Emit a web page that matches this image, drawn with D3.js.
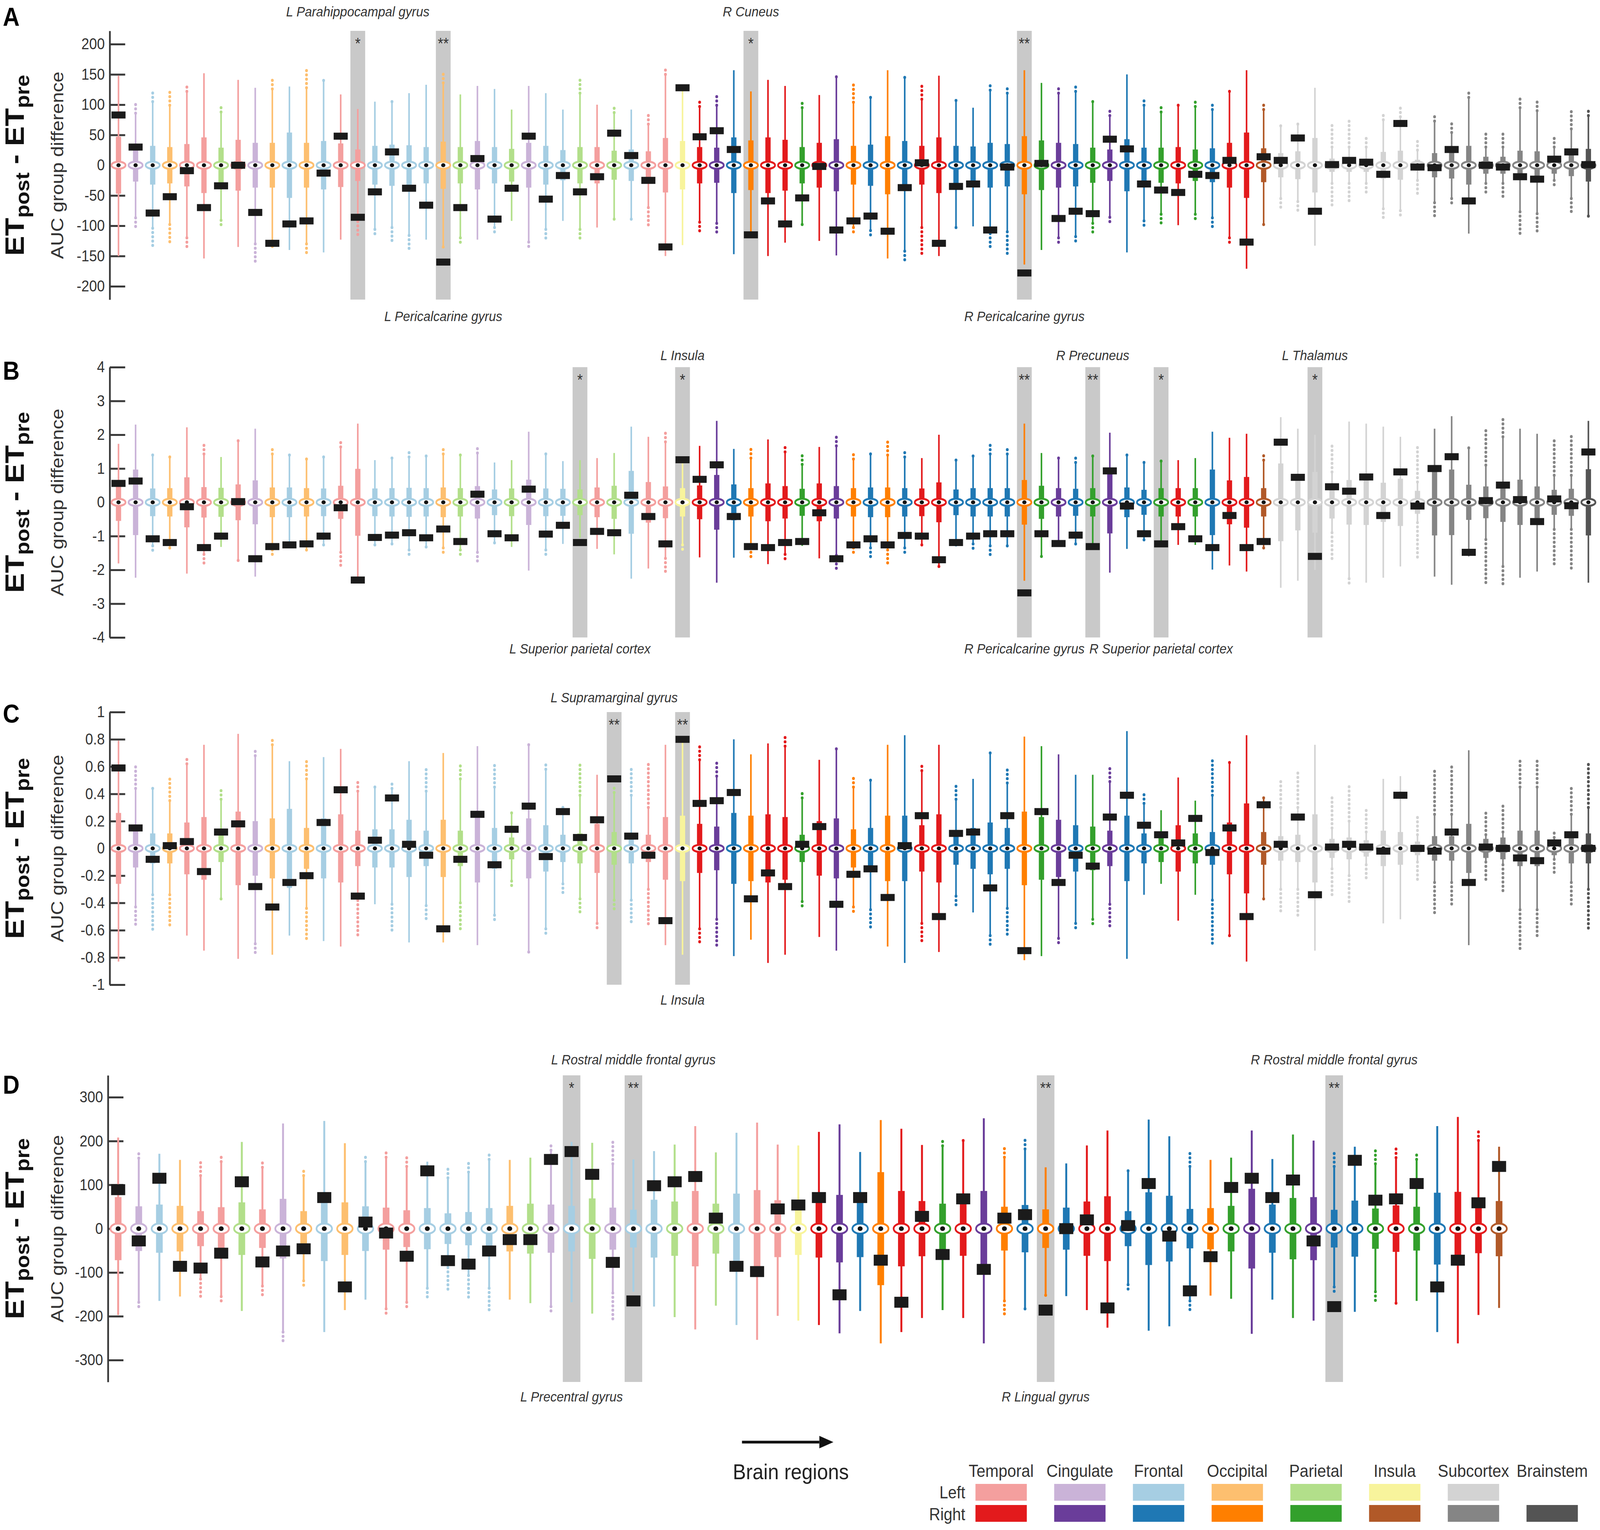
<!DOCTYPE html>
<html>
<head>
<meta charset="utf-8">
<script src="https://cdn.jsdelivr.net/npm/d3@7"></script>
<style>
  html, body { margin: 0; padding: 0; background: #fff; overflow: hidden; }
  #chart { display: block; width: 100vw; height: 100vh; }
  text { font-family: "Liberation Sans", Arial, sans-serif; }
</style>
</head>
<body>
<svg id="chart"></svg>
<script>
const _ = null;

// regions (Desikan order), left then right hemisphere, then subcortex + brainstem
const corticalRegions = ["Bankssts","Caudal anterior cingulate","Caudal middle frontal","Cuneus","Entorhinal","Fusiform",
  "Inferior parietal","Inferior temporal","Isthmus cingulate","Lateral occipital","Lateral orbitofrontal","Lingual",
  "Medial orbitofrontal","Middle temporal","Parahippocampal","Paracentral","Pars opercularis","Pars orbitalis",
  "Pars triangularis","Pericalcarine","Postcentral","Posterior cingulate","Precentral","Precuneus",
  "Rostral anterior cingulate","Rostral middle frontal","Superior frontal","Superior parietal","Superior temporal",
  "Supramarginal","Frontal pole","Temporal pole","Transverse temporal","Insula"];
const corticalLobes = ["Temporal","Cingulate","Frontal","Occipital","Temporal","Temporal","Parietal","Temporal","Cingulate",
  "Occipital","Frontal","Occipital","Frontal","Temporal","Temporal","Frontal","Frontal","Frontal","Frontal","Occipital",
  "Parietal","Cingulate","Frontal","Parietal","Cingulate","Frontal","Frontal","Parietal","Temporal","Parietal","Frontal",
  "Temporal","Temporal","Insula"];
const subcorticalRegions = ["Cerebellum white matter","Cerebellum cortex","Thalamus","Caudate","Putamen","Pallidum",
  "Hippocampus","Amygdala","Accumbens"];

const legendLobes = ["Temporal","Cingulate","Frontal","Occipital","Parietal","Insula","Subcortex","Brainstem"];
const lobeColors = {
  Temporal: ["#f49f9e", "#e31a1c"],
  Cingulate: ["#cab3d8", "#6a3d9a"],
  Frontal: ["#a6cee3", "#1f78b4"],
  Occipital: ["#fdbf6f", "#ff7f00"],
  Parietal: ["#b2df8a", "#33a02c"],
  Insula: ["#f8f49c", "#b15928"],
  Subcortex: ["#d3d3d3", "#858585"],
  Brainstem: [null, "#545454"]
};

// tick labels
const ticksA = [-200, -150, -100, -50, 0, 50, 100, 150, 200];
const ticksB = [-4, -3, -2, -1, 0, 1, 2, 3, 4];
const ticksC = [-1, -0.8, -0.6, -0.4, -0.2, 0, 0.2, 0.4, 0.6, 0.8, 1];
const ticksD = [-300, -200, -100, 0, 100, 200, 300];

// ---------- panel A ----------
const aWhiskHi = [148,86,105,99,122,152,88,141,128,126,130,128,140,117,93,105,105,119,133,136,117,131,126,92,131,119,92,119,100,
  87,92,68,150,129,97,99,157,122,141,131,95,116,146,104,112,157,145,109,148,107,95,124,119,157,136,119,122,105,
  82,150,99,88,99,97,92,122,157,92,65,68,128,30,30,30,75,80,25,73,54,112,30,30,95,90,30,60,82];
const aWhiskLo = [-150,-87,-104,-98,-120,-154,-91,-135,-130,-127,-140,-130,-144,-123,-86,-106,-103,-116,-123,-135,-120,-123,-103,-92,-127,-106,-92,-106,-103,
  -89,-89,-70,-150,-132,-94,-96,-147,-118,-150,-128,-98,-125,-149,-103,-108,-154,-142,-103,-150,-103,-101,-113,-110,-164,-140,-120,-118,-96,
  -86,-144,-92,-81,-99,-81,-87,-120,-171,-98,-55,-60,-133,-30,-30,-30,-72,-75,-25,-62,-55,-113,-30,-30,-77,-80,-25,-55,-84];
const aBox = [47,27,32,30,35,46,29,42,37,37,54,37,40,36,26,32,34,33,30,39,30,40,30,27,37,32,25,30,30,
  24,26,23,45,40,30,29,46,41,46,42,30,37,43,32,34,48,40,32,46,32,31,37,35,48,41,37,35,29,
  26,43,29,29,30,26,28,37,54,28,20,23,45,11,11,11,22,24,9,20,22,32,14,14,24,23,14,18,27];
const aObs = [83,30,-79,-52,-9,-70,-34,0,-78,-129,-97,-92,-13,48,-86,-44,22,-38,-66,-160,-70,11,-89,-38,48,-56,-17,-44,-19,
  53,16,-25,-135,128,47,57,26,-115,-59,-97,-54,-2,-107,-92,-84,-109,-37,4,-129,-35,-31,-107,-3,-178,3,-88,-76,-80,
  43,27,-31,-41,-45,-15,-17,8,-127,14,8,45,-76,1,8,5,-15,69,-3,-4,26,-59,0,-3,-19,-23,10,22,1];
const aOutHi = [_,103,122,126,136,_,96,_,_,146,_,158,146,_,_,_,108,_,_,151,_,_,_,_,_,_,_,142,_,
  97,_,88,162,_,108,114,_,_,_,_,107,_,152,136,115,_,152,131,_,112,_,134,133,_,_,129,134,112,
  92,_,109,102,102,105,102,128,_,100,71,75,_,68,75,51,87,97,41,85,73,121,53,56,116,107,46,90,92];
const aOutLo = [_,-105,-138,-130,-138,_,-102,_,-162,-140,_,-147,_,_,-120,-116,-125,-138,_,-142,-132,_,-115,_,-137,-123,_,-127,_,
  -96,-96,-103,_,_,-111,-115,_,_,_,_,-104,_,_,-112,-120,_,-157,-147,_,-108,_,-137,-150,_,_,-130,-130,-116,
  -94,_,-104,-99,_,-94,-104,-133,_,-104,-72,-79,_,-69,-60,-45,-87,-89,-48,-84,-63,_,-48,-58,-115,-113,-38,-81,-86];
const sigA = [[14, "*"], [19, "**"], [37, "*"], [53, "**"]];
const namesA = [[14, "L Parahippocampal gyrus", "top"], [19, "L Pericalcarine gyrus", "bottom"],
  [37, "R Cuneus", "top"], [53, "R Pericalcarine gyrus", "bottom"]];

// ---------- panel B ----------
const bWhiskHi = [1.73,2.30,1.40,1.34,2.22,1.43,1.34,1.82,2.18,1.43,1.40,1.28,1.34,1.64,2.33,1.25,1.31,1.34,1.37,1.43,1.40,1.46,1.18,1.25,2.09,1.43,1.22,1.25,1.31,
  1.46,2.24,1.94,1.79,1.15,1.67,2.41,1.58,1.31,1.86,1.49,1.12,1.64,1.67,1.28,1.43,1.40,1.34,1.31,2.00,1.25,1.37,1.43,1.43,2.33,1.46,1.31,1.18,1.37,
  2.06,1.40,1.18,1.22,1.25,1.31,2.09,1.91,2.03,1.25,2.52,2.18,2.0,0.9,2.39,2.33,2.24,1.94,0.6,2.18,2.55,1.61,1.1,1.94,2.18,2.03,0.8,0.8,2.41];
const bWhiskLo = [-1.81,-2.23,-1.29,-1.35,-2.11,-1.54,-1.32,-1.72,-2.20,-1.41,-1.35,-1.41,-1.26,-1.48,-2.26,-1.26,-1.23,-1.41,-1.32,-1.35,-1.41,-1.48,-1.20,-1.32,-2.02,-1.41,-1.23,-1.05,-1.38,
  -1.54,-2.26,-1.96,-1.66,-1.26,-1.63,-2.38,-1.64,-1.35,-1.83,-1.54,-1.29,-1.66,-1.57,-1.35,-1.35,-1.41,-1.35,-1.26,-1.90,-1.26,-1.23,-1.29,-1.29,-2.32,-1.60,-1.29,-1.23,-1.29,
  -2.08,-1.38,-1.11,-1.29,-1.26,-1.26,-1.99,-1.87,-2.05,-1.35,-2.53,-2.32,-2.0,-0.9,-2.26,-2.38,-2.23,-1.90,-0.6,-2.20,-2.44,-1.60,-1.1,-1.90,-2.23,-2.05,-0.8,-0.8,-2.38];
const bBox = [0.55,0.97,0.41,0.42,0.74,0.45,0.43,0.53,0.65,0.44,0.44,0.42,0.41,0.49,0.99,0.41,0.42,0.43,0.42,0.44,0.42,0.48,0.38,0.41,0.67,0.41,0.40,0.38,0.44,
  0.49,0.93,0.60,0.47,0.42,0.50,0.81,0.53,0.42,0.56,0.48,0.40,0.56,0.48,0.42,0.44,0.44,0.42,0.41,0.59,0.38,0.42,0.42,0.42,0.66,0.49,0.42,0.40,0.42,
  0.92,0.44,0.37,0.42,0.42,0.42,0.97,0.65,0.75,0.42,1.15,0.83,0.9,0.48,0.66,0.67,0.58,0.70,0.34,0.98,0.97,0.52,0.47,0.58,0.67,0.47,0.37,0.40,0.98];
const bObs = [0.56,0.63,-1.08,-1.19,-0.13,-1.34,-1.00,0.02,-1.67,-1.31,-1.26,-1.23,-1.00,-0.16,-2.30,-1.04,-0.97,-0.90,-1.05,-0.79,-1.16,0.24,-0.93,-1.05,0.39,-0.94,-0.68,-1.19,-0.86,
  -0.90,0.21,-0.42,-1.23,1.26,0.68,1.11,-0.42,-1.31,-1.34,-1.19,-1.16,-0.31,-1.67,-1.26,-1.08,-1.26,-0.98,-1.00,-1.70,-1.19,-1.00,-0.93,-0.93,-2.68,-0.93,-1.22,-0.97,-1.31,
  0.93,-0.11,-0.93,-1.23,-0.72,-1.08,-1.34,-0.39,-1.34,-1.16,1.78,0.74,-1.60,0.46,0.33,0.75,-0.39,0.90,-0.11,1.00,1.35,-1.48,0.05,0.51,0.08,-0.57,0.10,-0.10,1.49];
const bOutHi = [_,_,1.49,1.43,_,1.76,_,1.94,_,1.56,1.52,1.38,1.40,1.80,_,_,1.34,1.55,1.40,1.58,1.43,1.70,_,_,_,1.55,_,_,_,
  _,_,_,2.15,_,_,_,_,1.58,_,1.64,1.40,_,2.00,1.46,1.52,1.79,1.49,_,_,1.31,1.46,1.70,1.58,_,_,1.40,1.34,1.40,
  _,1.49,1.28,1.31,_,_,_,_,_,1.40,_,_,_,1.79,_,_,_,_,1.73,_,_,1.72,2.24,2.51,_,_,1.88,1.97,_];
const bOutLo = [_,_,-1.48,-1.41,_,-1.87,_,-1.76,_,-1.54,_,-1.48,-1.35,-1.87,_,-1.35,-1.32,-1.54,-1.44,-1.48,-1.60,-1.84,-1.26,_,_,-1.54,_,_,_,
  _,_,_,-2.05,-1.41,_,_,_,-1.63,_,-1.72,_,_,-1.96,-1.48,-1.63,-1.87,-1.54,-1.29,-1.99,-1.32,-1.41,-1.57,-1.41,_,-1.64,_,-1.26,_,
  _,_,-1.17,_,_,_,_,_,_,-1.41,_,_,_,-1.72,-2.45,_,_,_,-1.72,_,_,_,-2.44,-2.41,_,_,-1.87,-1.96,_];
const sigB = [[27, "*"], [33, "*"], [53, "**"], [57, "**"], [61, "*"], [70, "*"]];
const namesB = [[27, "L Superior parietal cortex", "bottom"], [33, "L Insula", "top"],
  [53, "R Pericalcarine gyrus", "bottom"], [57, "R Precuneus", "top"],
  [61, "R Superior parietal cortex", "bottom"], [70, "L Thalamus", "top"]];

// ---------- panel C ----------
const cWhiskHi = [0.79,0.44,0.44,0.35,0.62,0.76,0.36,0.84,0.68,0.76,0.64,0.51,0.67,0.73,0.42,0.45,0.44,0.64,0.42,0.70,0.51,0.75,0.45,0.26,0.76,0.58,0.30,0.39,0.54,
  0.41,0.39,0.30,0.76,0.79,0.65,0.53,0.80,0.69,0.77,0.75,0.37,0.65,0.73,0.45,0.50,0.76,0.83,0.57,0.76,0.36,0.51,0.70,0.48,0.82,0.75,0.69,0.54,0.54,
  0.49,0.86,0.33,0.28,0.52,0.35,0.39,0.63,0.83,0.37,0.3,0.3,0.76,0.15,0.2,0.12,0.51,0.53,0.1,0.25,0.25,0.72,0.1,0.12,0.45,0.45,0.08,0.25,0.3];
const cWhiskLo = [-0.83,-0.43,-0.34,-0.34,-0.64,-0.75,-0.37,-0.81,-0.70,-0.78,-0.64,-0.44,-0.68,-0.72,-0.35,-0.41,-0.41,-0.69,-0.42,-0.69,-0.40,-0.71,-0.49,-0.24,-0.76,-0.59,-0.26,-0.37,-0.55,
  -0.38,-0.38,-0.30,-0.71,-0.78,-0.59,-0.52,-0.79,-0.67,-0.84,-0.78,-0.39,-0.65,-0.75,-0.43,-0.45,-0.72,-0.84,-0.55,-0.76,-0.35,-0.47,-0.64,-0.44,-0.82,-0.79,-0.66,-0.55,-0.52,
  -0.41,-0.81,-0.34,-0.26,-0.53,-0.34,-0.38,-0.64,-0.83,-0.37,-0.3,-0.3,-0.75,-0.15,-0.2,-0.12,-0.55,-0.52,-0.1,-0.25,-0.25,-0.71,-0.1,-0.12,-0.45,-0.45,-0.08,-0.25,-0.3];
const cBox = [0.26,0.14,0.11,0.11,0.19,0.23,0.10,0.27,0.20,0.22,0.29,0.15,0.22,0.25,0.13,0.14,0.14,0.21,0.13,0.21,0.13,0.25,0.15,0.08,0.22,0.17,0.10,0.11,0.18,
  0.12,0.11,0.10,0.23,0.24,0.18,0.16,0.26,0.24,0.25,0.23,0.10,0.20,0.22,0.14,0.15,0.24,0.24,0.17,0.25,0.12,0.15,0.19,0.15,0.27,0.23,0.21,0.17,0.16,
  0.13,0.24,0.11,0.10,0.17,0.11,0.12,0.19,0.33,0.12,0.09,0.10,0.25,0.07,0.08,0.06,0.13,0.12,0.05,0.09,0.09,0.18,0.07,0.08,0.13,0.13,0.05,0.11,0.11];
const cObs = [0.59,0.15,-0.08,0.02,0.05,-0.17,0.12,0.18,-0.28,-0.43,-0.25,-0.20,0.19,0.43,-0.35,0.06,0.37,0.03,-0.05,-0.59,-0.08,0.25,-0.12,0.14,0.31,-0.06,0.27,0.08,0.21,
  0.51,0.09,-0.05,-0.53,0.80,0.33,0.35,0.41,-0.37,-0.18,-0.28,0.03,0.16,-0.41,-0.19,-0.15,-0.36,0.02,0.24,-0.50,0.11,0.12,-0.29,0.24,-0.75,0.27,-0.25,-0.05,-0.13,
  0.23,0.39,0.17,0.10,0.04,0.22,-0.03,0.15,-0.50,0.32,0.03,0.23,-0.34,0.01,0.03,0.01,-0.02,0.39,0.00,-0.02,0.12,-0.25,0.01,0.00,-0.07,-0.09,0.04,0.10,0.00];
const cOutHi = [_,0.62,0.47,0.51,0.67,_,0.43,_,0.72,0.80,_,0.64,_,_,0.50,0.48,0.50,_,0.58,_,0.61,_,0.62,0.29,0.79,0.63,0.32,0.62,_,
  0.47,0.58,0.62,_,_,0.75,0.64,_,_,_,0.84,0.42,_,0.76,0.53,0.53,_,_,0.63,_,0.47,_,0.71,0.60,_,_,_,_,_,
  0.61,_,0.40,_,_,_,0.65,0.65,_,0.38,0.51,0.57,_,0.38,0.48,0.30,_,_,0.23,0.59,0.60,_,0.28,0.32,0.64,0.64,0.13,0.44,0.64];
const cOutLo = [_,-0.58,-0.62,-0.58,_,_,-0.40,_,-0.78,_,_,-0.68,_,_,-0.66,_,-0.61,_,-0.53,_,-0.62,_,-0.53,-0.29,-0.78,-0.64,-0.33,-0.47,-0.60,
  -0.45,-0.56,-0.58,_,_,-0.70,-0.74,_,_,_,_,-0.43,_,_,-0.49,-0.59,_,_,-0.69,_,-0.43,_,-0.71,-0.64,_,_,-0.70,-0.59,-0.58,
  -0.58,_,_,_,_,_,-0.72,-0.66,_,-0.39,-0.47,-0.49,_,-0.37,-0.40,-0.24,_,_,-0.24,-0.50,-0.43,_,-0.24,-0.34,-0.75,-0.64,-0.18,-0.43,-0.59];
const sigC = [[29, "**"], [33, "**"]];
const namesC = [[29, "L Supramarginal gyrus", "top"], [33, "L Insula", "bottom"]];

// ---------- panel D (cortical regions only) ----------
const dWhiskHi = [208,161,171,157,121,153,198,140,240,121,246,195,153,163,142,153,116,129,158,157,162,179,198,196,148,158,177,192,234,174,219,242,192,190,
  221,238,175,248,228,191,189,201,252,163,182,140,149,190,224,132,249,211,142,157,162,224,159,215,201,142,187,148,162,158,234,255,201,187];
const dWhiskLo = [-197,-168,-165,-155,-115,-155,-188,-131,-236,-119,-236,-186,-162,-183,-168,-136,-89,-107,-136,-162,-170,-178,-168,-194,-147,-144,-178,-202,-230,-176,-220,-254,-199,-210,
  -220,-239,-188,-262,-236,-204,-186,-204,-262,-165,-183,-152,-154,-186,-226,-128,-233,-223,-165,-153,-160,-240,-162,-204,-210,-133,-190,-144,-170,-165,-236,-262,-197,-181];
const dBox = [72,51,55,52,40,49,60,44,68,40,74,60,51,48,42,47,35,38,47,52,57,55,52,69,48,43,66,62,86,57,80,88,65,60,
  66,77,65,129,86,63,57,62,86,50,54,44,48,62,74,40,83,75,45,47,52,91,55,70,72,43,64,46,53,50,82,84,56,63];
const dObs = [89,-28,115,-86,-90,-56,107,-76,-51,-46,71,-133,15,-10,-63,132,-73,-81,-51,-25,-25,158,176,124,-77,-165,98,107,119,24,-86,-98,45,54,
  71,-151,71,-72,-168,28,-59,68,-93,24,32,-186,0,20,-181,7,103,-17,-142,-64,94,115,71,111,-28,-178,156,65,68,103,-133,-72,59,142];
const dOutHi = [_,175,_,_,159,171,_,153,_,137,_,_,166,179,164,_,137,156,177,_,_,192,_,_,205,_,_,_,_,_,_,_,_,_,
  _,_,_,_,_,_,207,207,_,184,205,_,_,_,_,140,_,_,179,_,_,_,_,_,_,173,_,178,189,175,_,_,222,_];
const dOutLo = [_,-181,_,_,-162,-170,_,-152,-262,-131,_,_,_,-194,-178,-157,-139,-165,-186,_,_,-189,_,_,-210,_,_,_,_,_,_,_,_,_,
  _,_,_,_,_,_,_,_,_,-202,-191,-155,_,_,_,-139,_,_,-191,_,_,_,_,_,_,-152,_,-170,-176,_,_,_,_,_];
const sigD = [[22, "*"], [25, "**"], [45, "**"], [59, "**"]];
const namesD = [[22, "L Precentral gyrus", "bottom"], [25, "L Rostral middle frontal gyrus", "top"],
  [45, "R Lingual gyrus", "bottom"], [59, "R Rostral middle frontal gyrus", "top"]];

// ---------- categories ----------
const cortexCats = [
  ...corticalRegions.map((r, i) => ({ name: "L " + r, lobe: corticalLobes[i], hemi: 0 })),
  ...corticalRegions.map((r, i) => ({ name: "R " + r, lobe: corticalLobes[i], hemi: 1 }))
];
const allCats = [
  ...cortexCats,
  ...subcorticalRegions.map(r => ({ name: "L " + r, lobe: "Subcortex", hemi: 0 })),
  ...subcorticalRegions.map(r => ({ name: "R " + r, lobe: "Subcortex", hemi: 1 })),
  { name: "Brainstem", lobe: "Brainstem", hemi: 1 }
];
const colorOf = c => lobeColors[c.lobe][c.hemi];

const W = 4550, H = 3917;
// the figure is laid out in a 4550x3917 frame and stretched onto the real viewport
const svg = d3.select("#chart").attr("viewBox", `0 0 ${W} ${H}`)
  .attr("preserveAspectRatio", "none");
svg.append("rect").attr("width", W).attr("height", H).attr("fill", "#fff");

const fmtInt = d => String(d);               // plain hyphen minus like the original
const fmtDec = d => d === 0 ? "0" : String(+d.toFixed(1));

const panels = [
  { letter: "A", cats: allCats, hi: aWhiskHi, lo: aWhiskLo, box: aBox, obs: aObs, oHi: aOutHi, oLo: aOutLo,
    ticks: ticksA, fmt: fmtInt, domain: [-222, 222], top: 79, bottom: 767, xr: [337, 4517], axisX: 312,
    letterY: 66, nameTop: 42, nameBot: 822, sig: sigA, names: namesA, big: false },
  { letter: "B", cats: allCats, hi: bWhiskHi, lo: bWhiskLo, box: bBox, obs: bObs, oHi: bOutHi, oLo: bOutLo,
    ticks: ticksB, fmt: fmtInt, domain: [-4, 4], top: 940, bottom: 1632, xr: [337, 4517], axisX: 312,
    letterY: 972, nameTop: 922, nameBot: 1673, sig: sigB, names: namesB, big: false },
  { letter: "C", cats: allCats, hi: cWhiskHi, lo: cWhiskLo, box: cBox, obs: cObs, oHi: cOutHi, oLo: cOutLo,
    ticks: ticksC, fmt: fmtDec, domain: [-1, 1], top: 1823, bottom: 2521, xr: [337, 4517], axisX: 312,
    letterY: 1850, nameTop: 1798, nameBot: 2572, sig: sigC, names: namesC, big: false },
  { letter: "D", cats: cortexCats, hi: dWhiskHi, lo: dWhiskLo, box: dBox, obs: dObs, oHi: dOutHi, oLo: dOutLo,
    ticks: ticksD, fmt: fmtInt, domain: [-350, 350], top: 2753, bottom: 3538, xr: [336, 4263], axisX: 307,
    letterY: 2800, nameTop: 2725, nameBot: 3588, sig: sigD, names: namesD, big: true }
];

panels.forEach(p => {
  const g = svg.append("g");
  const n = p.obs.length;
  const x = d3.scalePoint().domain(d3.range(n)).range(p.xr);
  const y = d3.scaleLinear().domain(p.domain).range([p.bottom, p.top]);
  const s = p.big
    ? { grayW: 50, boxW: 19, whW: 5.5, mRx: 22, mRy: 13, dot: 6, obsW: 40, obsH: 28 }
    : { grayW: 42, boxW: 15, whW: 4.5, mRx: 20, mRy: 9, dot: 5, obsW: 40, obsH: 18 };

  // significance columns
  g.selectAll(".sig").data(p.sig).join("rect")
    .attr("x", d => x(d[0]) - s.grayW / 2).attr("y", p.top)
    .attr("width", s.grayW).attr("height", p.bottom - p.top)
    .attr("fill", "#c9c9c9");

  // y axis, ticks pointing inward
  const ax = g.append("g").attr("transform", `translate(${p.axisX},0)`)
    .call(d3.axisLeft(y).tickValues(p.ticks).tickFormat(p.fmt)
      .tickSizeInner(-44).tickSizeOuter(0).tickPadding(14));
  ax.attr("font-family", null).attr("font-size", null);
  ax.select(".domain").attr("stroke", "#3a3a3a").attr("stroke-width", 5);
  ax.selectAll(".tick line").attr("stroke", "#3a3a3a").attr("stroke-width", 5);
  ax.selectAll(".tick text").attr("font-size", 40).attr("fill", "#333");

  const rows = d3.range(n).map(i => ({
    i, c: p.cats[i], hi: p.hi[i], lo: p.lo[i], box: p.box[i], obs: p.obs[i], oHi: p.oHi[i], oLo: p.oLo[i]
  }));
  const b = g.selectAll(".bx").data(rows).join("g")
    .attr("transform", d => `translate(${x(d.i)},0)`);

  // outlier runs
  b.filter(d => d.oHi !== null).append("line")
    .attr("y1", d => y(d.hi)).attr("y2", d => y(d.oHi))
    .attr("stroke", d => colorOf(d.c)).attr("stroke-width", 8)
    .attr("stroke-linecap", "round").attr("stroke-dasharray", "0 11");
  b.filter(d => d.oLo !== null).append("line")
    .attr("y1", d => y(d.lo)).attr("y2", d => y(d.oLo))
    .attr("stroke", d => colorOf(d.c)).attr("stroke-width", 8)
    .attr("stroke-linecap", "round").attr("stroke-dasharray", "0 11");
  // whiskers
  b.append("line")
    .attr("y1", d => y(d.hi)).attr("y2", d => y(d.lo))
    .attr("stroke", d => colorOf(d.c)).attr("stroke-width", s.whW);
  // boxes
  b.append("rect")
    .attr("x", -s.boxW / 2).attr("width", s.boxW)
    .attr("y", d => y(d.box)).attr("height", d => y(-d.box) - y(d.box))
    .attr("fill", d => colorOf(d.c));
  // median marker
  b.append("ellipse").attr("cx", 0).attr("cy", y(0)).attr("rx", s.mRx).attr("ry", s.mRy)
    .attr("fill", "#fff").attr("stroke", d => colorOf(d.c)).attr("stroke-width", 5);
  b.append("ellipse").attr("cx", 0).attr("cy", y(0)).attr("rx", s.dot + 1).attr("ry", s.dot)
    .attr("fill", "#111");
  // observed group difference
  b.append("rect")
    .attr("x", -s.obsW / 2).attr("width", s.obsW)
    .attr("y", d => y(d.obs) - s.obsH / 2).attr("height", s.obsH)
    .attr("fill", "#1b1b1b");

  // stars
  g.selectAll(".star").data(p.sig).join("text")
    .attr("x", d => x(d[0])).attr("y", p.top + 46)
    .attr("text-anchor", "middle").attr("font-size", 40).attr("fill", "#333")
    .text(d => d[1]);

  // region names
  g.selectAll(".nm").data(p.names).join("text")
    .attr("x", d => x(d[0])).attr("y", d => d[2] === "top" ? p.nameTop : p.nameBot)
    .attr("text-anchor", "middle").attr("font-size", 36).attr("font-style", "italic")
    .attr("fill", "#333").text(d => d[1]);

  // panel letter
  g.append("text").attr("x", 8).attr("y", p.letterY)
    .attr("font-size", 66).attr("font-weight", "bold").attr("fill", "#000").text(p.letter);

  // y labels
  const yc = y(0);
  g.append("text").attr("transform", `translate(180,${yc}) rotate(-90)`)
    .attr("text-anchor", "middle").attr("font-size", 50).attr("fill", "#333")
    .text("AUC group difference");
  const et = g.append("text").attr("transform", `translate(68,${yc}) rotate(-90)`)
    .attr("text-anchor", "middle").attr("font-size", 76).attr("font-weight", "bold").attr("fill", "#111");
  et.append("tspan").text("ET");
  et.append("tspan").attr("font-size", 55).attr("dy", 15).text("post");
  et.append("tspan").attr("dy", -15).text(" - ET");
  et.append("tspan").attr("font-size", 55).attr("dy", 15).text("pre");
});

// ---------- bottom legend ----------
const lg = svg.append("g");
lg.append("line").attr("x1", 2110).attr("x2", 2330).attr("y1", 3692).attr("y2", 3692)
  .attr("stroke", "#111").attr("stroke-width", 7);
lg.append("path").attr("d", "M2330,3676 L2370,3692 L2330,3708 Z").attr("fill", "#111");
lg.append("text").attr("x", 2249).attr("y", 3787).attr("text-anchor", "middle")
  .attr("font-size", 56).attr("fill", "#222").text("Brain regions");

const lx = d3.scalePoint().domain(legendLobes).range([2847, 4414]);
lg.selectAll(".lh").data(legendLobes).join("text")
  .attr("x", d => lx(d)).attr("y", 3781).attr("text-anchor", "middle")
  .attr("font-size", 45).attr("fill", "#333").text(d => d);
lg.append("text").attr("x", 2745).attr("y", 3836).attr("text-anchor", "end")
  .attr("font-size", 44).attr("fill", "#333").text("Left");
lg.append("text").attr("x", 2745).attr("y", 3892).attr("text-anchor", "end")
  .attr("font-size", 44).attr("fill", "#333").text("Right");
const swatches = [];
legendLobes.forEach(l => lobeColors[l].forEach((c, h) => { if (c) swatches.push({ l, h, c }); }));
lg.selectAll(".sw").data(swatches).join("rect")
  .attr("x", d => lx(d.l) - 73).attr("width", 146)
  .attr("y", d => d.h === 0 ? 3799 : 3853).attr("height", 43)
  .attr("fill", d => d.c);
</script>
</body>
</html>
